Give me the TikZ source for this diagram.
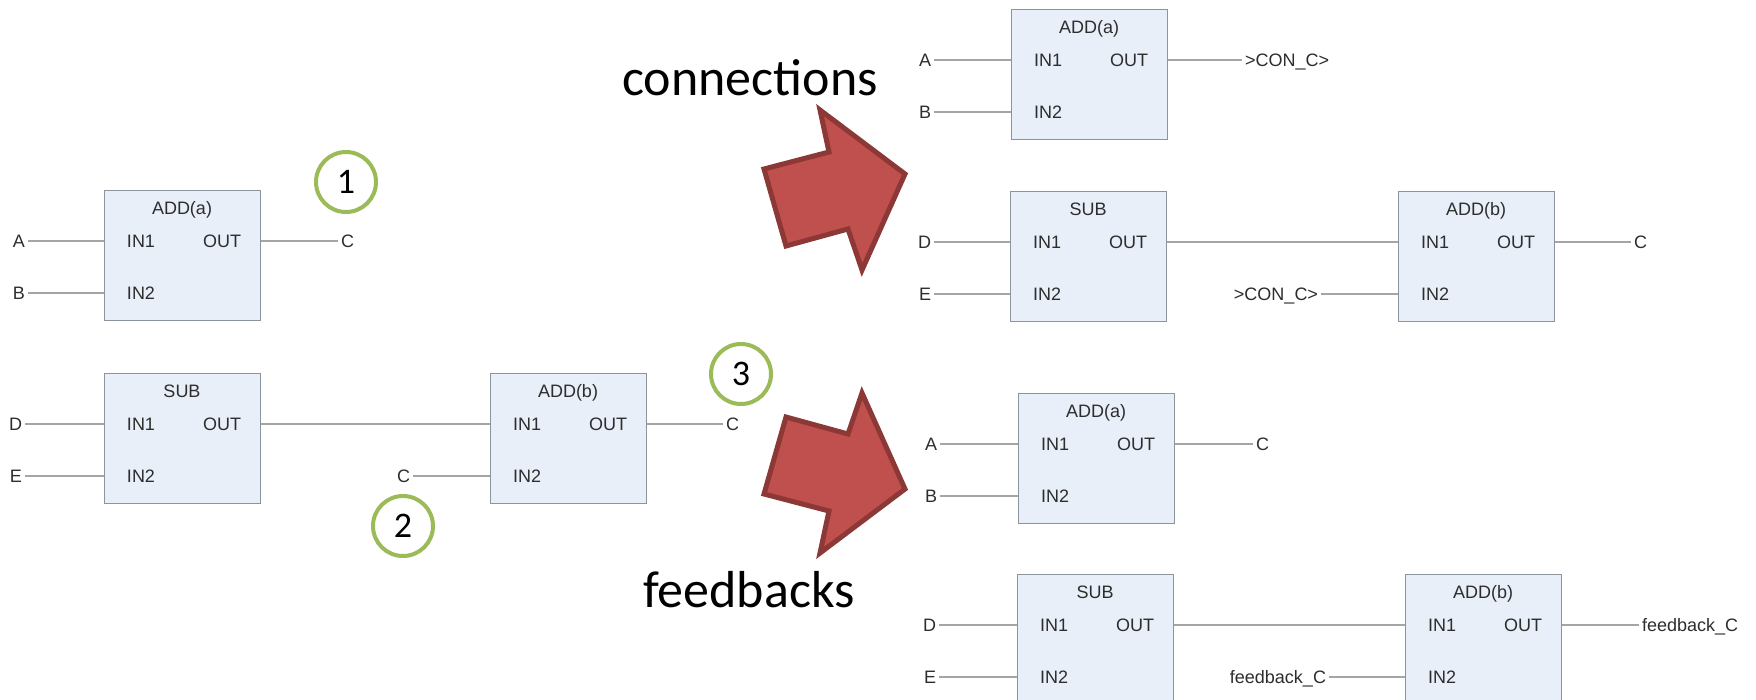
\documentclass[tikz,border=0pt]{standalone}
\usepackage{fontspec}
\setmainfont{Liberation Sans}
\newfontfamily\calib{Carlito}
\usetikzlibrary{calc}
\definecolor{boxfill}{RGB}{232,239,249}
\definecolor{boxborder}{RGB}{140,148,158}
\definecolor{wirec}{RGB}{165,165,165}
\definecolor{txt}{RGB}{45,45,45}
\definecolor{badgegreen}{RGB}{155,187,89}
\definecolor{arrowfill}{RGB}{192,80,77}
\definecolor{arrowdraw}{RGB}{140,56,54}
\newcommand\fblk[4]{%
  \node[fblock] (#1) at (#2,#3) {};
  \node[lbl] (#1t) at ($(#1.north west)+(78,18)$) {#4};
  \node[lbl] (#1i1) at ($(#1.north west)+(37,51)$) {IN1};
  \node[lbl] (#1i2) at ($(#1.north west)+(37,103)$) {IN2};
  \node[lbl] (#1o) at ($(#1.north west)+(118,51)$) {OUT};
  \coordinate (#1a) at ($(#1.north west)+(0,51)$);
  \coordinate (#1b) at ($(#1.north west)+(0,103)$);
  \coordinate (#1c) at ($(#1.north east)+(0,51)$);
}
\begin{document}
\begin{tikzpicture}[x=1pt,y=-1pt,
  fblock/.style={draw=boxborder, fill=boxfill, line width=1.3pt, minimum width=156pt, minimum height=130pt, anchor=north west, inner sep=0pt},
  lbl/.style={font=\fontsize{18}{18}\selectfont, text=txt, inner sep=0pt, outer sep=3pt, text height=13pt, text depth=0pt},
  wire/.style={draw=wirec, line width=1.5pt},
  badge/.style={circle, draw=badgegreen, line width=4pt, minimum size=60pt, inner sep=0pt, font=\calib\fontsize{36}{36}\selectfont},
  bigarrow/.style={fill=arrowfill, draw=arrowdraw, line width=5pt, line join=miter},
  caption/.style={font=\calib\fontsize{52}{52}\selectfont, anchor=base west, inner sep=0pt}]
\useasboundingbox (0,0) rectangle (1756,699);
\clip (0,0) rectangle (1756,699);

% ---------- left ----------
\fblk{La}{104}{190}{ADD(a)}
\fblk{Ls}{104}{373}{SUB}
\fblk{Lb}{490}{373}{ADD(b)}
\node[lbl,anchor=east] (LA) at (28,241) {A};
\node[lbl,anchor=east] (LB) at (28,293) {B};
\node[lbl,anchor=west] (LC1) at (338,241) {C};
\node[lbl,anchor=east] (LD) at (25,424) {D};
\node[lbl,anchor=east] (LE) at (25,476) {E};
\node[lbl,anchor=east] (LC2) at (413,476) {C};
\node[lbl,anchor=west] (LC3) at (723,424) {C};
\draw[wire] (LA) -- (Laa);
\draw[wire] (LB) -- (Lab);
\draw[wire] (Lac) -- (LC1);
\draw[wire] (LD) -- (Lsa);
\draw[wire] (LE) -- (Lsb);
\draw[wire] (Lsc) -- (Lba);
\draw[wire] (LC2) -- (Lbb);
\draw[wire] (Lbc) -- (LC3);
\node[badge] (n1) at (346,182) {1};
\node[badge] (n2) at (403,526) {2};
\node[badge] (n3) at (741,374) {3};

% ---------- arrows ----------
\draw[bigarrow] (786,246) -- (764,169) -- (829,152) -- (820,110) -- (905,174) -- (862,270) -- (848,229) -- cycle;
\draw[bigarrow] (786,417) -- (764,494) -- (829,511) -- (820,553) -- (905,489) -- (862,393) -- (848,434) -- cycle;
\node[caption] (cap1) at (622,95) {connections};
\node[caption] (cap2) at (643,607) {feedbacks};

% ---------- right top ----------
\fblk{Ra}{1011}{9}{ADD(a)}
\fblk{Rs}{1010}{191}{SUB}
\fblk{Rb}{1398}{191}{ADD(b)}
\node[lbl,anchor=east] (RA) at (934,60) {A};
\node[lbl,anchor=east] (RB) at (934,112) {B};
\node[lbl,anchor=west] (RK1) at (1242,60) {>CON\_C>};
\node[lbl,anchor=east] (RD) at (934,242) {D};
\node[lbl,anchor=east] (RE) at (934,294) {E};
\node[lbl,anchor=east] (RK2) at (1321,294) {>CON\_C>};
\node[lbl,anchor=west] (RC) at (1631,242) {C};
\draw[wire] (RA) -- (Raa);
\draw[wire] (RB) -- (Rab);
\draw[wire] (Rac) -- (RK1);
\draw[wire] (RD) -- (Rsa);
\draw[wire] (RE) -- (Rsb);
\draw[wire] (Rsc) -- (Rba);
\draw[wire] (RK2) -- (Rbb);
\draw[wire] (Rbc) -- (RC);

% ---------- right bottom ----------
\fblk{Fa}{1018}{393}{ADD(a)}
\fblk{Fs}{1017}{574}{SUB}
\fblk{Fb}{1405}{574}{ADD(b)}
\node[lbl,anchor=east] (FA) at (940,444) {A};
\node[lbl,anchor=east] (FB) at (940,496) {B};
\node[lbl,anchor=west] (FC) at (1253,444) {C};
\node[lbl,anchor=east] (FD) at (939,625) {D};
\node[lbl,anchor=east] (FE) at (939,677) {E};
\node[lbl,anchor=east] (FK2) at (1329,677) {feedback\_C};
\node[lbl,anchor=west] (FK1) at (1639,625) {feedback\_C};
\draw[wire] (FA) -- (Faa);
\draw[wire] (FB) -- (Fab);
\draw[wire] (Fac) -- (FC);
\draw[wire] (FD) -- (Fsa);
\draw[wire] (FE) -- (Fsb);
\draw[wire] (Fsc) -- (Fba);
\draw[wire] (FK2) -- (Fbb);
\draw[wire] (Fbc) -- (FK1);
\end{tikzpicture}
\end{document}
